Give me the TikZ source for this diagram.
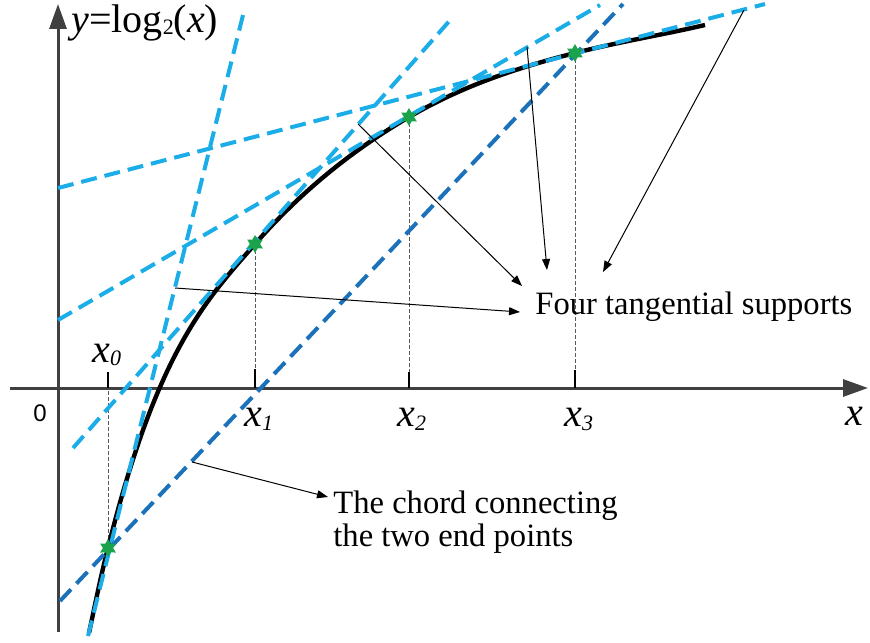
\documentclass[tikz,border=0pt]{standalone}
\usepackage{fontspec}
\setmainfont{Liberation Serif}
\setsansfont{Liberation Sans}
\usetikzlibrary{arrows.meta,shapes.geometric}
\definecolor{Sky}{HTML}{1AADE8}
\definecolor{Ocean}{HTML}{1B72BA}
\definecolor{Leaf}{HTML}{1AA34A}
\definecolor{AxisGray}{HTML}{404040}
\newcommand{\lowidx}[2][2pt]{\raisebox{-#1}{\fontsize{11}{11}\selectfont #2}}

\begin{document}
\begin{tikzpicture}[x=0.5pt,y=-0.5pt,
    axisline/.style={draw=AxisGray,line width=1.5pt,-{Triangle[length=12.5pt,width=8.5pt]}},
    tangent/.style={draw=Sky,line width=2pt,dash pattern=on 8pt off 4pt},
    chordline/.style={draw=Ocean,line width=2pt,dash pattern=on 8pt off 4pt},
    guide/.style={draw=black!65,line width=0.5pt,dash pattern=on 2pt off 1pt},
    tickmark/.style={draw=black,line width=1pt},
    annot/.style={draw=black,line width=0.5pt,-{Triangle[length=5.5pt,width=4pt]}},
    touchpt/.style={star,star points=6,star point ratio=1.75,minimum size=9pt,inner sep=0pt,fill=Leaf},
    lbl/.style={font=\fontsize{20}{20}\selectfont\itshape,inner sep=0pt},
    note/.style={font=\fontsize{16.3}{16.5}\selectfont,inner sep=0pt,align=left}]
  \useasboundingbox (0,0) rectangle (870,642);

  % axes
  \coordinate (xs) at (10,388);  \coordinate (xe) at (868,388);
  \coordinate (ys) at (58,632);  \coordinate (ye) at (58,4);
  \draw[axisline] (xs) -- (xe);
  \draw[axisline] (ys) -- (ye);

  % points of contact
  \foreach \i/\x/\y in {0/108/548,1/255/244,2/409/117,3/575/53}
    \coordinate (c\i) at (\x,\y);

  % ticks and guides
  \foreach \i/\x/\top in {0/108/372,1/255/369,2/409/372,3/575/370}{
    \coordinate (tk\i) at (\x,\top);
    \coordinate (tb\i) at (\x,388);
    \draw[tickmark] (tk\i) -- (tb\i);
  }
  \coordinate (g0) at (108,391);
  \draw[guide] (g0) -- (c0);
  \foreach \i in {1,2,3}
    \draw[guide] (c\i) -- (tk\i);

  % the curve
  \coordinate (cs) at (89,633);  \coordinate (ce) at (705,25);
  \draw[line width=2.2pt] (cs) .. controls (95,605) and (101,575) .. (c0)
    .. controls (157,351) and (206,300) .. (c1)
    .. controls (306,186) and (358,147) .. (c2)
    .. controls (464,85) and (520,67) .. (c3)
    .. controls (618,42) and (662,35) .. (ce);

  % tangent lines
  \coordinate (t0a) at (88,636);  \coordinate (t0b) at (243,15);
  \coordinate (t1a) at (73,448);  \coordinate (t1b) at (452,18);
  \coordinate (t2a) at (58,320);  \coordinate (t2b) at (600,5);
  \coordinate (t3a) at (58,188);  \coordinate (t3b) at (765,4);
  \foreach \i in {0,...,3}
    \draw[tangent] (t\i a) -- (t\i b);

  % chord
  \coordinate (cha) at (60,601);  \coordinate (chb) at (623,4);
  \draw[chordline] (cha) -- (chb);

  % labels
  \node[lbl,anchor=base west] (lx0) at (92,362) {x\lowidx[1.5pt]{0}};
  \node[lbl,anchor=base west] (lx1) at (244,426) {x\lowidx{1}};
  \node[lbl,anchor=base west] (lx2) at (397,426) {x\lowidx{2}};
  \node[lbl,anchor=base west] (lx3) at (564,426) {x\lowidx{3}};
  \node[lbl,anchor=base west] (lx) at (845,425) {x};
  \node[font=\sffamily\fontsize{12}{12}\selectfont,inner sep=0pt] (orig) at (40,413) {0};
  \node[lbl,font=\fontsize{20}{20}\selectfont,anchor=base west] (ly) at (71,33)
    {{\itshape y}=log\lowidx[1pt]{2}({\itshape x})};

  % annotations
  \node[note,anchor=base west] (sup) at (535,314) {Four tangential supports};
  \node[note,anchor=west] (chd) at (333,522) {The chord connecting\\the two end points};
  \coordinate (s0) at (175,288);  \coordinate (e0) at (520,312);
  \coordinate (s1) at (358,124);  \coordinate (e1) at (522,286);
  \coordinate (s2) at (527,47);   \coordinate (e2) at (547,270);
  \coordinate (s3) at (744,10);   \coordinate (e3) at (603,272);
  \foreach \i in {0,...,3}
    \draw[annot] (s\i) -- (e\i);
  \coordinate (sc) at (192,462);  \coordinate (ec) at (328,497);
  \draw[annot] (sc) -- (ec);

  % stars
  \foreach \i in {0,...,3}
    \node[touchpt] (p\i) at (c\i) {};
\end{tikzpicture}
\end{document}
